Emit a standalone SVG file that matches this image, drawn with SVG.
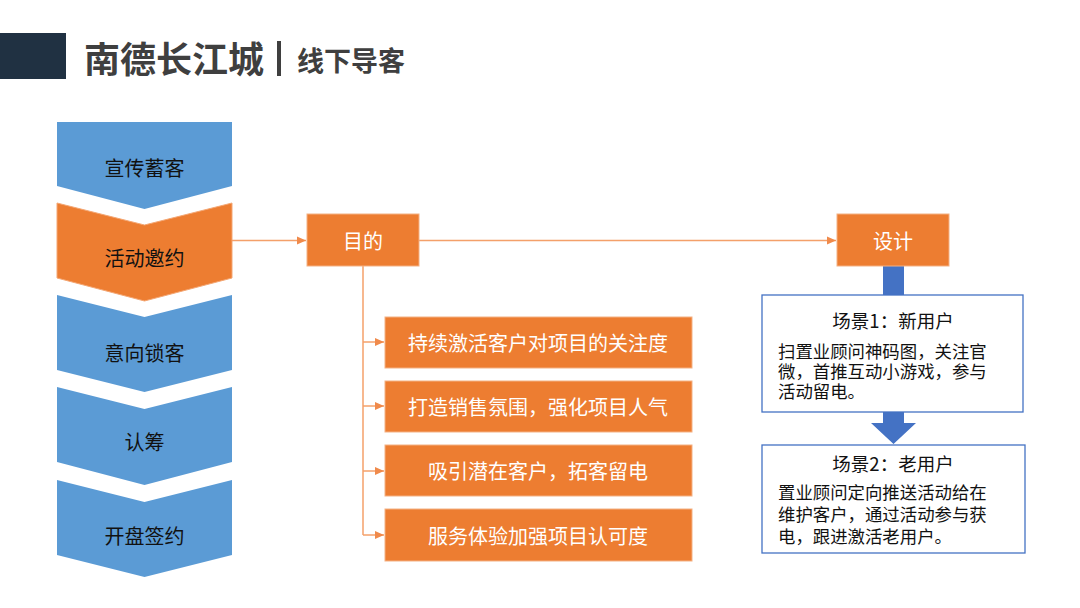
<svg xmlns="http://www.w3.org/2000/svg" width="1080" height="608" viewBox="0 0 1080 608">
<style>
text{font-family:"Noto Sans CJK SC","Noto Sans",sans-serif;}
.chev-b{fill:#5B9BD5;}
.chev-o{fill:#ED7D31;stroke:#F4A774;stroke-width:1;}
.ctext{font-size:20px;fill:#111;text-anchor:middle;dominant-baseline:central;}
.obox{fill:#ED7D31;stroke:#F4B183;stroke-width:1;}
.wtext{font-size:20px;fill:#fff;text-anchor:middle;dominant-baseline:central;}
.conn{stroke:#F4A06A;stroke-width:1.5;fill:none;}
.sbox{fill:#fff;stroke:#4472C4;stroke-width:1.3;}
.stitle{font-size:18.5px;fill:#111;text-anchor:middle;dominant-baseline:central;}
.sbody{font-family:"Liberation Sans","Noto Sans CJK SC",sans-serif;font-size:17.4px;fill:#111;}
</style>
<defs>
<marker id="arr" markerUnits="userSpaceOnUse" markerWidth="10" markerHeight="10" refX="9" refY="5" orient="auto">
<path d="M0,1 L9,5 L0,9 Z" fill="#F08A4B"/>
</marker>
</defs>
<rect width="1080" height="608" fill="#fff"/>
<g id="header">
<rect x="0" y="33" width="66" height="46" fill="#203142"/>
<text x="84" y="57" style="font-size:36px;font-weight:bold;fill:#3F3F3F;dominant-baseline:central;">南德长江城</text>
<rect x="277" y="41" width="4" height="35" fill="#3F3F3F"/>
<text x="297" y="59" style="font-size:27px;font-weight:bold;fill:#3F3F3F;dominant-baseline:central;">线下导客</text>
</g>
<g id="chevron1">
<path class="chev-b" d="M57,122 L232,122 L232,186 L144.5,209 L57,186 Z"/>
<text class="ctext" x="144.5" y="167">宣传蓄客</text>
</g>
<g id="chevron2">
<path class="chev-o" d="M57,203 L144.5,225 L232,203 L232,278 L144.5,301 L57,278 Z"/>
<text class="ctext" x="144.5" y="257">活动邀约</text>
</g>
<g id="chevron3">
<path class="chev-b" d="M57,295 L144.5,317 L232,295 L232,370 L144.5,392 L57,370 Z"/>
<text class="ctext" x="144.5" y="352">意向锁客</text>
</g>
<g id="chevron4">
<path class="chev-b" d="M57,387 L144.5,409 L232,387 L232,462 L144.5,485 L57,462 Z"/>
<text class="ctext" x="144.5" y="441">认筹</text>
</g>
<g id="chevron5">
<path class="chev-b" d="M57,480 L144.5,502 L232,480 L232,555 L144.5,577 L57,555 Z"/>
<text class="ctext" x="144.5" y="535">开盘签约</text>
</g>
<g id="connectors">
<path class="conn" d="M232,240.5 L306,240.5" marker-end="url(#arr)"/>
<path class="conn" d="M419,240.5 L836,240.5" marker-end="url(#arr)"/>
<path class="conn" d="M363,266 L363,535"/>
<path class="conn" d="M363,342 L384,342" marker-end="url(#arr)"/>
<path class="conn" d="M363,406 L384,406" marker-end="url(#arr)"/>
<path class="conn" d="M363,471 L384,471" marker-end="url(#arr)"/>
<path class="conn" d="M363,535 L384,535" marker-end="url(#arr)"/>
<rect x="883" y="266" width="21" height="29" fill="#4472C4"/>
<path d="M883,412 L904,412 L904,423 L916,423 L893.5,444 L871,423 L883,423 Z" fill="#4472C4"/>
</g>
<g id="goal">
<rect class="obox" x="307" y="214" width="112" height="52"/>
<text class="wtext" x="363" y="240">目的</text>
</g>
<g id="design">
<rect class="obox" x="837" y="214" width="112" height="52"/>
<text class="wtext" x="893" y="240">设计</text>
</g>
<g id="item1">
<rect class="obox" x="385" y="317" width="307" height="51"/>
<text class="wtext" x="538" y="342">持续激活客户对项目的关注度</text>
</g>
<g id="item2">
<rect class="obox" x="385" y="381" width="307" height="51"/>
<text class="wtext" x="538" y="406">打造销售氛围，强化项目人气</text>
</g>
<g id="item3">
<rect class="obox" x="385" y="445" width="307" height="51"/>
<text class="wtext" x="538" y="470">吸引潜在客户，拓客留电</text>
</g>
<g id="item4">
<rect class="obox" x="385" y="509" width="307" height="52"/>
<text class="wtext" x="538" y="535">服务体验加强项目认可度</text>
</g>
<g id="scene1">
<rect class="sbox" x="762" y="295" width="261" height="117"/>
<text class="stitle" x="893" y="320">场景1：新用户</text>
<text class="sbody"><tspan x="778" y="358">扫置业顾问神码图，关注官</tspan><tspan x="778" y="378">微，首推互动小游戏，参与</tspan><tspan x="778" y="398">活动留电。</tspan></text>
</g>
<g id="scene2">
<rect class="sbox" x="762" y="445" width="263" height="108"/>
<text class="stitle" x="893" y="463">场景2：老用户</text>
<text class="sbody"><tspan x="778" y="499">置业顾问定向推送活动给在</tspan><tspan x="778" y="521">维护客户，通过活动参与获</tspan><tspan x="778" y="543">电，跟进激活老用户。</tspan></text>
</g>
</svg>
